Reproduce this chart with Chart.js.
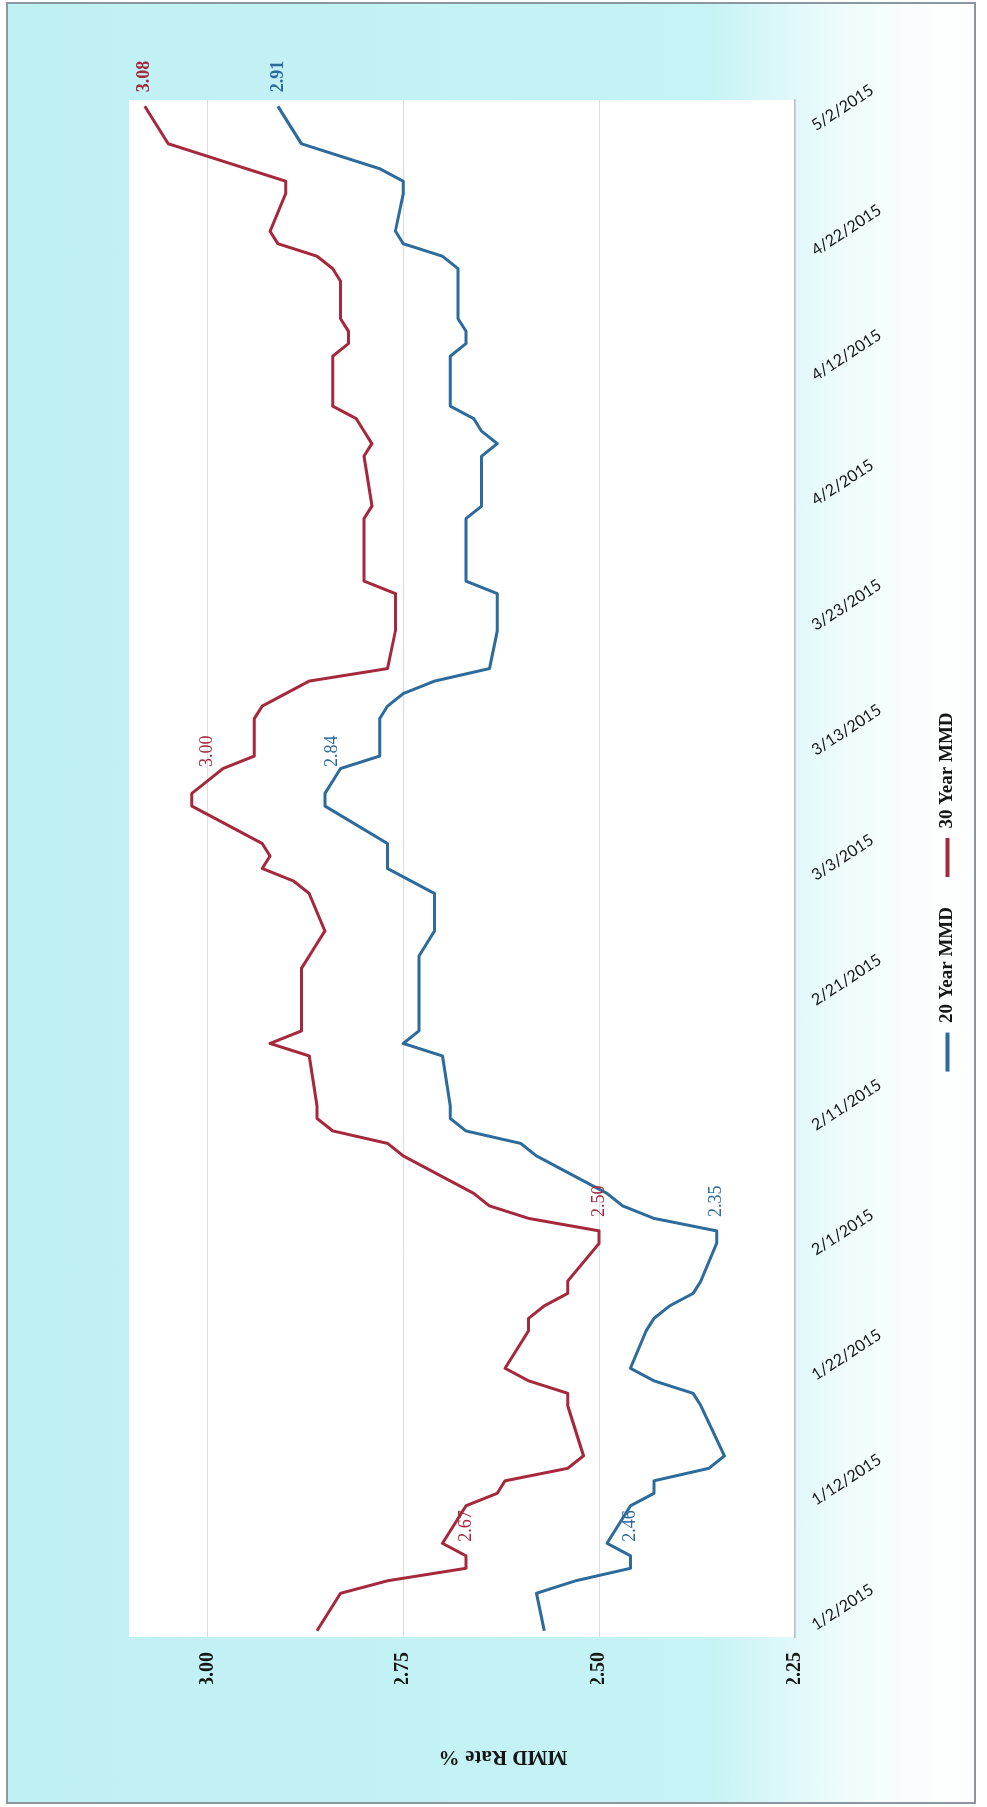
<!DOCTYPE html>
<html>
<head>
<meta charset="utf-8">
<title>MMD Rate %</title>
<script src="https://cdn.jsdelivr.net/npm/chart.js@4.4.0/dist/chart.umd.min.js"></script>
<style>
  html, body { margin: 0; padding: 0; background: #fff; overflow: hidden; }
  body { width: 987px; height: 1807px; position: relative; }
  #moldura {
    position: absolute; left: 6px; top: 2px; width: 966px; height: 1798px;
    border: 2px solid #8b979e;
    background: linear-gradient(to right, #bff0f4 0px, #c6f3f5 700px, #eefbfc 830px, #fdfefe 930px);
  }
  /* the chart is drawn lying down (1807 x 987) and turned a quarter turn */
  #giro {
    position: absolute; left: 0; top: 0; width: 1807px; height: 987px;
    transform-origin: 0 0; transform: translate(0px, 1807px) rotate(-90deg);
  }
</style>
</head>
<body>
<div id="moldura"></div>
<div id="giro"><canvas id="grafico" width="1807" height="987"></canvas></div>
<script>
const tradeDates = [
  "1/2/2015", "1/5/2015", "1/6/2015", "1/7/2015", "1/8/2015", "1/9/2015",
  "1/12/2015", "1/13/2015", "1/14/2015", "1/15/2015", "1/16/2015",
  "1/20/2015", "1/21/2015", "1/22/2015", "1/23/2015",
  "1/26/2015", "1/27/2015", "1/28/2015", "1/29/2015", "1/30/2015",
  "2/2/2015", "2/3/2015", "2/4/2015", "2/5/2015", "2/6/2015",
  "2/9/2015", "2/10/2015", "2/11/2015", "2/12/2015", "2/13/2015",
  "2/17/2015", "2/18/2015", "2/19/2015", "2/20/2015",
  "2/23/2015", "2/24/2015", "2/25/2015", "2/26/2015", "2/27/2015",
  "3/2/2015", "3/3/2015", "3/4/2015", "3/5/2015", "3/6/2015",
  "3/9/2015", "3/10/2015", "3/11/2015", "3/12/2015", "3/13/2015",
  "3/16/2015", "3/17/2015", "3/18/2015", "3/19/2015", "3/20/2015",
  "3/23/2015", "3/24/2015", "3/25/2015", "3/26/2015", "3/27/2015",
  "3/30/2015", "3/31/2015", "4/1/2015", "4/2/2015",
  "4/6/2015", "4/7/2015", "4/8/2015", "4/9/2015", "4/10/2015",
  "4/13/2015", "4/14/2015", "4/15/2015", "4/16/2015", "4/17/2015",
  "4/20/2015", "4/21/2015", "4/22/2015", "4/23/2015", "4/24/2015",
  "4/27/2015", "4/28/2015", "4/29/2015", "4/30/2015", "5/1/2015",
  "5/4/2015"
];

const rate20 = [
  2.57, 2.58, 2.53, 2.46, 2.46, 2.49,
  2.46, 2.43, 2.43, 2.36, 2.34,
  2.37, 2.38, 2.43, 2.46,
  2.44, 2.43, 2.41, 2.38, 2.37,
  2.35, 2.35, 2.43, 2.47, 2.49,
  2.58, 2.60, 2.67, 2.69, 2.69,
  2.70, 2.75, 2.73, 2.73,
  2.73, 2.73, 2.73, 2.72, 2.71,
  2.71, 2.74, 2.77, 2.77, 2.77,
  2.85, 2.85, 2.84, 2.83, 2.78,
  2.78, 2.77, 2.75, 2.71, 2.64,
  2.63, 2.63, 2.63, 2.63, 2.67,
  2.67, 2.67, 2.67, 2.65,
  2.65, 2.63, 2.65, 2.66, 2.69,
  2.69, 2.69, 2.67, 2.67, 2.68,
  2.68, 2.68, 2.70, 2.75, 2.76,
  2.75, 2.75, 2.78, 2.83, 2.88,
  2.91
];

const rate30 = [
  2.86, 2.83, 2.77, 2.67, 2.67, 2.70,
  2.67, 2.63, 2.62, 2.54, 2.52,
  2.54, 2.54, 2.59, 2.62,
  2.59, 2.59, 2.57, 2.54, 2.54,
  2.50, 2.50, 2.59, 2.64, 2.66,
  2.75, 2.77, 2.84, 2.86, 2.86,
  2.87, 2.92, 2.88, 2.88,
  2.88, 2.88, 2.87, 2.86, 2.85,
  2.87, 2.89, 2.93, 2.92, 2.93,
  3.02, 3.02, 3.00, 2.98, 2.94,
  2.94, 2.93, 2.90, 2.87, 2.77,
  2.76, 2.76, 2.76, 2.76, 2.80,
  2.80, 2.80, 2.80, 2.79,
  2.80, 2.79, 2.80, 2.81, 2.84,
  2.84, 2.84, 2.82, 2.82, 2.83,
  2.83, 2.84, 2.86, 2.91, 2.92,
  2.90, 2.90, 2.95, 3.00, 3.05,
  3.08
];

const tickDates = [
  "1/2/2015", "1/12/2015", "1/22/2015", "2/1/2015", "2/11/2015", "2/21/2015", "3/3/2015",
  "3/13/2015", "3/23/2015", "4/2/2015", "4/12/2015", "4/22/2015", "5/2/2015"
];
const rateTicks = [2.25, 2.50, 2.75, 3.00];
const labelDates = ["1/8/2015", "2/3/2015", "3/11/2015", "5/4/2015"];

const AZUL = "#2c6b9c";
const VERMELHO = "#a6283c";
const TEXTO = "#161616";

function dayNum(s) {
  const p = s.split("/");
  return (Date.UTC(+p[2], +p[0] - 1, +p[1]) - Date.UTC(2015, 0, 2)) / 86400000;
}

function pontos(valores) {
  return tradeDates.map((d, i) => ({ x: dayNum(d), y: valores[i] }));
}

const fundoBranco = {
  id: "fundoBranco",
  beforeDraw(chart) {
    const { ctx, chartArea: a } = chart;
    ctx.save();
    ctx.fillStyle = "#ffffff";
    ctx.fillRect(a.left, a.top, a.right - a.left, a.bottom - a.top);
    ctx.restore();
  }
};

const rotulosValores = {
  id: "rotulosValores",
  afterDatasetsDraw(chart) {
    const ctx = chart.ctx;
    ctx.save();
    ctx.textAlign = "left";
    ctx.textBaseline = "middle";
    chart.data.datasets.forEach((ds, i) => {
      const meta = chart.getDatasetMeta(i);
      labelDates.forEach((d, k) => {
        const idx = tradeDates.indexOf(d);
        const pt = meta.data[idx];
        const ultimo = k === labelDates.length - 1;
        ctx.font = (ultimo ? "bold " : "") + "18px 'Liberation Serif'";
        ctx.fillStyle = ds.borderColor;
        ctx.fillText(ds.data[idx].y.toFixed(2), pt.x + 14, pt.y);
      });
    });
    ctx.restore();
  }
};

const rotulosEixos = {
  id: "rotulosEixos",
  afterDraw(chart) {
    const ctx = chart.ctx;
    const escalaX = chart.scales.x;
    const base = chart.chartArea.bottom;

    ctx.save();
    ctx.font = "16px Lato";
    ctx.fillStyle = TEXTO;
    ctx.textAlign = "left";
    ctx.textBaseline = "alphabetic";
    for (const d of tickDates) {
      const px = escalaX.getPixelForValue(dayNum(d));
      ctx.save();
      ctx.translate(px, base + 21);
      ctx.rotate(57 * Math.PI / 180);
      ctx.fillText(d, 0, 0);
      ctx.restore();
    }

    ctx.font = "bold 21px 'Liberation Serif'";
    ctx.textAlign = "center";
    ctx.textBaseline = "middle";
    ctx.translate(51, 503);
    ctx.rotate(-Math.PI / 2);
    ctx.fillText("MMD Rate %", 0, 0);
    ctx.restore();
  }
};

new Chart(document.getElementById("grafico"), {
  type: "line",
  data: {
    datasets: [
      {
        label: "20 Year MMD",
        data: pontos(rate20),
        borderColor: AZUL,
        backgroundColor: AZUL,
        borderWidth: 3,
        pointRadius: 0,
        tension: 0,
        borderJoinStyle: "round"
      },
      {
        label: "30 Year MMD",
        data: pontos(rate30),
        borderColor: VERMELHO,
        backgroundColor: VERMELHO,
        borderWidth: 3,
        pointRadius: 0,
        tension: 0,
        borderJoinStyle: "round"
      }
    ]
  },
  options: {
    responsive: false,
    animation: false,
    devicePixelRatio: 1,
    layout: { padding: { top: 129, right: 100, bottom: 20, left: 123 } },
    scales: {
      x: {
        type: "linear",
        min: -0.5,
        max: 122.5,
        grid: { display: false },
        border: { display: true, color: "#b9c0c8", width: 1.5 },
        ticks: { display: false },
        afterBuildTicks: (s) => { s.ticks = tickDates.map((d) => ({ value: dayNum(d) })); },
        afterFit: (s) => { s.height = 113; }
      },
      y: {
        min: 2.25,
        max: 3.1,
        afterBuildTicks: (s) => { s.ticks = rateTicks.map((v) => ({ value: v })); },
        grid: { color: "#dcdee3", lineWidth: 1, drawTicks: false },
        border: { display: false },
        ticks: {
          padding: 15,
          color: TEXTO,
          font: { family: "'Liberation Serif'", size: 20, weight: "bold" },
          callback: (v) => Number(v).toFixed(2)
        },
        afterFit: (s) => { s.width = 47; }
      }
    },
    plugins: {
      legend: {
        position: "bottom",
        labels: {
          boxWidth: 39,
          boxHeight: 4,
          padding: 30,
          color: TEXTO,
          font: { family: "'Liberation Serif'", size: 19, weight: "bold" },
          generateLabels: (chart) => chart.data.datasets.map((ds, i) => ({
            text: ds.label,
            fillStyle: ds.borderColor,
            strokeStyle: ds.borderColor,
            lineWidth: 0,
            hidden: false,
            datasetIndex: i,
            fontColor: TEXTO
          }))
        }
      },
      tooltip: { enabled: false }
    }
  },
  plugins: [fundoBranco, rotulosValores, rotulosEixos]
});
</script>
</body>
</html>
